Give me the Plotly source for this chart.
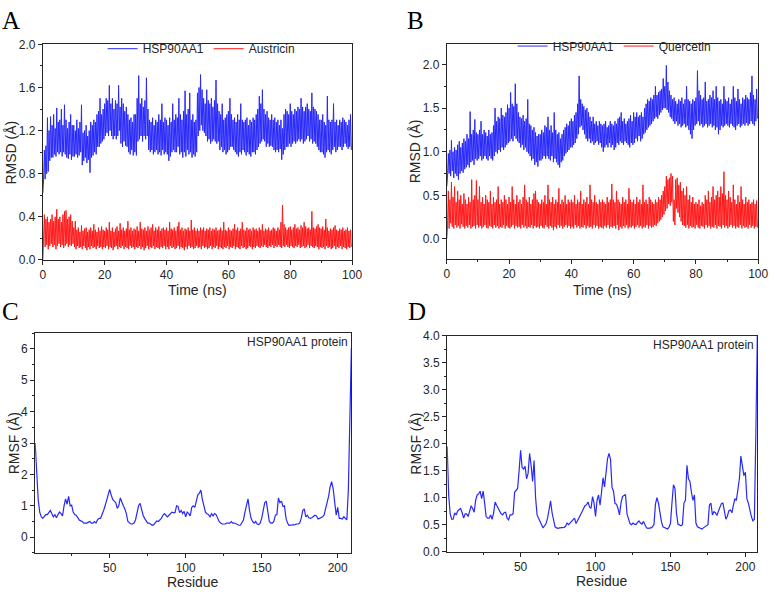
import plotly.graph_objects as go

W, H = 780, 597

# ---------------- data ----------------
# RMSD time grid (ns), one upper and one lower sample per 0.5 ns
time_ns = [i * 0.5 for i in range(200)]

a_prot_hi = [0.62, 1.02, 1.06, 1.32, 1.2, 1.33, 1.25, 1.35, 1.22, 1.41, 1.28, 1.3, 1.4, 1.25, 1.44, 1.3, 1.22, 1.28, 1.35, 1.25,
             1.25, 1.2, 1.3, 1.22, 1.28, 1.44, 1.18, 1.2, 1.25, 1.15, 1.2, 1.28, 1.25, 1.3, 1.28, 1.35, 1.38, 1.5, 1.35, 1.4,
             1.45, 1.5, 1.48, 1.62, 1.45, 1.5, 1.4, 1.48, 1.45, 1.62, 1.42, 1.5, 1.45, 1.38, 1.42, 1.35, 1.3, 1.32, 1.28, 1.35,
             1.35, 1.5, 1.71, 1.45, 1.5, 1.42, 1.48, 1.69, 1.4, 1.3, 1.28, 1.32, 1.25, 1.3, 1.28, 1.35, 1.3, 1.45, 1.28, 1.32,
             1.3, 1.25, 1.32, 1.28, 1.45, 1.3, 1.35, 1.32, 1.5, 1.35, 1.3, 1.38, 1.57, 1.35, 1.4, 1.55, 1.3, 1.35, 1.28, 1.3,
             1.55, 1.6, 1.72, 1.58, 1.5, 1.45, 1.58, 1.48, 1.45, 1.5, 1.42, 1.48, 1.67, 1.45, 1.38, 1.35, 1.45, 1.3, 1.32, 1.35,
             1.38, 1.5, 1.35, 1.3, 1.32, 1.28, 1.35, 1.3, 1.45, 1.3, 1.28, 1.3, 1.32, 1.25, 1.3, 1.28, 1.32, 1.3, 1.35, 1.4,
             1.52, 1.45, 1.58, 1.4, 1.35, 1.38, 1.32, 1.3, 1.35, 1.3, 1.32, 1.28, 1.3, 1.25, 1.3, 1.22, 1.35, 1.4, 1.38, 1.35,
             1.45, 1.38, 1.35, 1.4, 1.38, 1.42, 1.4, 1.5, 1.42, 1.38, 1.42, 1.45, 1.4, 1.38, 1.55, 1.42, 1.4, 1.38, 1.35, 1.3,
             1.3, 1.35, 1.28, 1.25, 1.52, 1.3, 1.28, 1.3, 1.45, 1.28, 1.3, 1.25, 1.3, 1.28, 1.32, 1.3, 1.28, 1.25, 1.3, 1.35]
a_prot_lo = [0.75, 0.75, 0.8, 0.82, 0.92, 0.95, 0.95, 0.98, 0.96, 1.0, 0.98, 1.0, 0.96, 1.0, 0.98, 0.95, 0.94, 0.98, 0.93, 0.96,
             0.96, 0.98, 0.95, 0.97, 1.0, 0.88, 0.92, 0.95, 0.9, 0.93, 0.81, 0.95, 0.97, 1.0, 0.98, 1.05, 1.05, 1.08, 1.1, 1.12,
             1.15, 1.18, 1.15, 1.2, 1.15, 1.12, 1.15, 1.12, 1.15, 1.2, 1.08, 1.05, 1.1, 1.06, 1.05, 1.0, 0.98, 1.02, 0.97, 1.0,
             0.97, 1.1, 1.12, 1.15, 1.1, 1.15, 1.12, 1.15, 1.02, 1.0, 1.02, 0.98, 1.0, 1.02, 0.98, 1.0, 0.97, 1.02, 0.98, 1.0,
             0.98, 0.92, 0.96, 1.0, 1.02, 1.0, 1.0, 1.05, 0.98, 1.0, 0.95, 1.0, 0.96, 1.02, 0.98, 1.0, 0.95, 0.98, 0.96, 1.0,
             1.15, 1.2, 1.25, 1.2, 1.18, 1.15, 1.1, 1.12, 1.08, 1.1, 1.12, 1.1, 1.08, 1.1, 1.02, 1.05, 1.0, 1.02, 0.98, 1.0,
             1.02, 1.05, 1.05, 1.02, 1.0, 0.98, 0.96, 1.0, 0.98, 1.02, 1.0, 0.97, 1.0, 0.98, 0.96, 1.0, 1.0, 0.98, 1.02, 1.05,
             1.08, 1.1, 1.12, 1.1, 1.05, 1.08, 1.05, 1.06, 1.05, 1.02, 1.0, 1.02, 1.0, 1.03, 0.93, 0.98, 1.02, 1.05, 1.05, 1.08,
             1.05, 1.08, 1.1, 1.08, 1.1, 1.12, 1.1, 1.12, 1.08, 1.1, 1.12, 1.15, 1.1, 1.12, 1.08, 1.1, 1.08, 1.05, 1.02, 1.0,
             1.0, 0.98, 0.95, 1.0, 1.02, 1.0, 0.98, 1.02, 1.05, 1.0, 1.02, 1.05, 1.05, 1.02, 1.05, 1.08, 1.05, 1.03, 1.05, 1.02]

a_lig_hi = [0.0, 0.42, 0.38, 0.4, 0.35, 0.38, 0.42, 0.36, 0.4, 0.47, 0.38, 0.4, 0.35, 0.42, 0.45, 0.46, 0.38, 0.4, 0.42, 0.36,
            0.3, 0.36, 0.28, 0.3, 0.26, 0.32, 0.27, 0.29, 0.3, 0.26, 0.28, 0.3, 0.27, 0.33, 0.28, 0.26, 0.3, 0.27, 0.31, 0.28,
            0.27, 0.3, 0.28, 0.35, 0.27, 0.3, 0.26, 0.29, 0.31, 0.27, 0.34, 0.28, 0.3, 0.27, 0.29, 0.36, 0.28, 0.3, 0.27, 0.29,
            0.28, 0.31, 0.27, 0.35, 0.29, 0.28, 0.3, 0.27, 0.31, 0.28, 0.3, 0.33, 0.27, 0.3, 0.28, 0.31, 0.27, 0.29, 0.3, 0.28,
            0.3, 0.27, 0.35, 0.29, 0.28, 0.3, 0.27, 0.31, 0.35, 0.28, 0.3, 0.27, 0.29, 0.28, 0.3, 0.27, 0.37, 0.28, 0.3, 0.27,
            0.29, 0.27, 0.3, 0.28, 0.3, 0.27, 0.29, 0.28, 0.3, 0.27, 0.29, 0.28, 0.3, 0.27, 0.28, 0.3, 0.27, 0.35, 0.28, 0.27,
            0.3, 0.28, 0.27, 0.29, 0.33, 0.28, 0.3, 0.27, 0.29, 0.35, 0.28, 0.27, 0.3, 0.28, 0.29, 0.27, 0.3, 0.28, 0.29, 0.27,
            0.3, 0.28, 0.33, 0.27, 0.29, 0.28, 0.3, 0.27, 0.28, 0.3, 0.29, 0.27, 0.3, 0.28, 0.35, 0.51, 0.33, 0.3, 0.28, 0.3,
            0.31, 0.28, 0.3, 0.33, 0.29, 0.3, 0.28, 0.32, 0.3, 0.35, 0.31, 0.29, 0.3, 0.28, 0.45, 0.3, 0.29, 0.31, 0.33, 0.3,
            0.29, 0.31, 0.28, 0.38, 0.3, 0.27, 0.29, 0.28, 0.3, 0.32, 0.28, 0.27, 0.29, 0.28, 0.3, 0.27, 0.28, 0.3, 0.27, 0.28]
a_lig_lo = [0.15, 0.12, 0.14, 0.1, 0.13, 0.15, 0.12, 0.14, 0.1, 0.13, 0.15, 0.12, 0.14, 0.11, 0.13, 0.15, 0.12, 0.14, 0.13, 0.15,
            0.12, 0.1, 0.13, 0.11, 0.12, 0.1, 0.13, 0.11, 0.09, 0.12, 0.1, 0.13, 0.11, 0.12, 0.1, 0.13, 0.11, 0.12, 0.1, 0.12,
            0.11, 0.13, 0.1, 0.12, 0.11, 0.09, 0.12, 0.13, 0.1, 0.12, 0.11, 0.13, 0.1, 0.12, 0.11, 0.1, 0.13, 0.11, 0.12, 0.1,
            0.12, 0.11, 0.13, 0.1, 0.12, 0.09, 0.11, 0.13, 0.1, 0.12, 0.11, 0.13, 0.1, 0.12, 0.11, 0.1, 0.12, 0.11, 0.13, 0.1,
            0.12, 0.1, 0.13, 0.11, 0.12, 0.1, 0.11, 0.13, 0.1, 0.12, 0.11, 0.09, 0.12, 0.1, 0.13, 0.11, 0.12, 0.1, 0.11, 0.13,
            0.11, 0.12, 0.1, 0.13, 0.11, 0.12, 0.1, 0.11, 0.13, 0.1, 0.12, 0.11, 0.13, 0.1, 0.12, 0.11, 0.1, 0.12, 0.11, 0.13,
            0.1, 0.12, 0.11, 0.13, 0.1, 0.12, 0.11, 0.1, 0.13, 0.11, 0.12, 0.1, 0.11, 0.13, 0.12, 0.1, 0.12, 0.11, 0.13, 0.12,
            0.11, 0.13, 0.12, 0.14, 0.12, 0.11, 0.13, 0.12, 0.14, 0.11, 0.13, 0.12, 0.14, 0.12, 0.11, 0.13, 0.12, 0.14, 0.12, 0.11,
            0.13, 0.12, 0.11, 0.13, 0.12, 0.14, 0.11, 0.12, 0.13, 0.11, 0.12, 0.14, 0.11, 0.13, 0.12, 0.11, 0.13, 0.12, 0.1, 0.12,
            0.11, 0.12, 0.1, 0.13, 0.11, 0.12, 0.1, 0.11, 0.13, 0.1, 0.12, 0.11, 0.13, 0.1, 0.12, 0.11, 0.1, 0.12, 0.11, 0.12]

b_prot_hi = [0.6, 0.98, 1.02, 1.13, 1.0, 1.05, 1.02, 1.08, 1.12, 1.05, 1.1, 1.15, 1.12, 1.2, 1.15, 1.46, 1.2, 1.25, 1.37, 1.22,
             1.2, 1.25, 1.35, 1.2, 1.25, 1.22, 1.18, 1.25, 1.2, 1.22, 1.3, 1.5, 1.35, 1.4, 1.38, 1.5, 1.42, 1.4, 1.45, 1.54,
             1.5, 1.68, 1.55, 1.52, 1.78, 1.55, 1.45, 1.4, 1.38, 1.42, 1.35, 1.38, 1.6, 1.32, 1.3, 1.25, 1.28, 1.22, 1.18, 1.2,
             1.2, 1.25, 1.22, 1.3, 1.28, 1.4, 1.25, 1.3, 1.22, 1.45, 1.25, 1.2, 1.22, 1.15, 1.2, 1.25, 1.28, 1.32, 1.3, 1.35,
             1.38, 1.35, 1.42, 1.45, 1.55, 1.87, 1.6, 1.55, 1.52, 1.48, 1.5, 1.45, 1.4, 1.35, 1.4, 1.32, 1.35, 1.3, 1.35, 1.32,
             1.3, 1.32, 1.35, 1.28, 1.3, 1.35, 1.32, 1.3, 1.35, 1.32, 1.38, 1.4, 1.45, 1.35, 1.38, 1.32, 1.35, 1.38, 1.42, 1.35,
             1.45, 1.4, 1.45, 1.4, 1.42, 1.45, 1.4, 1.5, 1.55, 1.6, 1.58, 1.62, 1.6, 1.65, 1.75, 1.65, 1.68, 1.7, 1.72, 1.84,
             1.75, 1.99, 1.8, 1.7, 1.65, 1.6, 1.62, 1.58, 1.55, 1.6, 1.58, 1.62, 1.55, 1.6, 1.75, 1.6, 1.58, 1.55, 1.6, 1.58,
             1.62, 1.93, 1.7, 1.65, 1.6, 1.62, 1.8, 1.58, 1.6, 1.65, 1.62, 1.7, 1.6, 1.75, 1.62, 1.58, 1.6, 1.55, 1.75, 1.6,
             1.58, 1.62, 1.55, 1.6, 1.75, 1.62, 1.58, 1.72, 1.6, 1.55, 1.62, 1.6, 1.65, 1.62, 1.6, 1.68, 1.87, 1.65, 1.6, 1.72]
b_prot_lo = [0.72, 0.75, 0.72, 0.78, 0.7, 0.75, 0.72, 0.68, 0.75, 0.78, 0.76, 0.8, 0.82, 0.85, 0.82, 0.88, 0.9, 0.85, 0.92, 0.9,
             0.92, 0.95, 0.9, 0.92, 0.95, 0.92, 0.9, 0.95, 0.92, 0.9, 0.95, 1.0, 0.98, 1.02, 1.0, 1.05, 1.02, 1.05, 1.08, 1.1,
             1.12, 1.15, 1.12, 1.18, 1.15, 1.12, 1.1, 1.05, 1.08, 1.02, 1.05, 1.0, 0.98, 0.95, 0.9, 0.92, 0.85, 0.88, 0.83, 0.9,
             0.9, 0.92, 0.95, 0.92, 0.95, 0.92, 0.9, 0.95, 0.88, 0.92, 0.88, 0.85, 0.82, 0.88, 0.9, 0.95, 0.98, 1.0, 1.02, 1.05,
             1.05, 1.08, 1.1, 1.15, 1.2, 1.28, 1.3, 1.25, 1.2, 1.15, 1.12, 1.15, 1.1, 1.12, 1.08, 1.1, 1.12, 1.08, 1.1, 1.05,
             1.0, 1.05, 1.08, 1.05, 1.1, 1.05, 1.08, 1.02, 1.05, 1.1, 1.08, 1.12, 1.1, 1.08, 1.12, 1.1, 1.08, 1.05, 1.1, 1.08,
             1.1, 1.15, 1.12, 1.18, 1.12, 1.15, 1.2, 1.22, 1.25, 1.28, 1.3, 1.32, 1.35, 1.38, 1.4, 1.38, 1.42, 1.45, 1.48, 1.5,
             1.5, 1.48, 1.45, 1.4, 1.38, 1.35, 1.32, 1.35, 1.3, 1.32, 1.28, 1.3, 1.32, 1.28, 1.3, 1.25, 1.2, 1.15, 1.25, 1.3,
             1.32, 1.35, 1.3, 1.32, 1.28, 1.3, 1.32, 1.28, 1.3, 1.32, 1.28, 1.3, 1.25, 1.28, 1.2, 1.25, 1.3, 1.28, 1.3, 1.32,
             1.3, 1.28, 1.32, 1.3, 1.28, 1.25, 1.3, 1.32, 1.28, 1.3, 1.32, 1.3, 1.33, 1.3, 1.32, 1.35, 1.32, 1.3, 1.35, 1.38]

b_lig_hi = [0.0, 0.55, 0.45, 0.65, 0.48, 0.6, 0.42, 0.55, 0.45, 0.5, 0.4, 0.52, 0.45, 0.4, 0.48, 0.42, 0.68, 0.45, 0.5, 0.67,
            0.45, 0.6, 0.42, 0.48, 0.4, 0.5, 0.45, 0.42, 0.55, 0.4, 0.48, 0.42, 0.45, 0.6, 0.4, 0.45, 0.42, 0.5, 0.45, 0.4,
            0.48, 0.42, 0.6, 0.45, 0.4, 0.5, 0.42, 0.45, 0.4, 0.48, 0.62, 0.45, 0.42, 0.48, 0.4, 0.45, 0.52, 0.55, 0.45, 0.42,
            0.4, 0.45, 0.42, 0.5, 0.4, 0.62, 0.45, 0.42, 0.48, 0.4, 0.45, 0.42, 0.58, 0.4, 0.45, 0.42, 0.5, 0.4, 0.45, 0.42,
            0.45, 0.42, 0.5, 0.4, 0.45, 0.42, 0.55, 0.4, 0.45, 0.42, 0.48, 0.4, 0.62, 0.45, 0.42, 0.5, 0.42, 0.4, 0.45, 0.42,
            0.45, 0.42, 0.4, 0.48, 0.42, 0.45, 0.63, 0.45, 0.42, 0.55, 0.45, 0.42, 0.4, 0.48, 0.42, 0.45, 0.4, 0.58, 0.45, 0.42,
            0.45, 0.4, 0.48, 0.42, 0.45, 0.4, 0.62, 0.42, 0.45, 0.4, 0.48, 0.45, 0.42, 0.4, 0.45, 0.42, 0.48, 0.45, 0.5, 0.55,
            0.6, 0.72, 0.68, 0.7, 0.75, 0.72, 0.45, 0.68, 0.7, 0.62, 0.65, 0.55, 0.58, 0.5, 0.6, 0.45, 0.5, 0.42, 0.48, 0.4,
            0.42, 0.4, 0.45, 0.38, 0.42, 0.4, 0.5, 0.45, 0.55, 0.42, 0.48, 0.6, 0.45, 0.5, 0.55, 0.48, 0.6, 0.52, 0.77, 0.5,
            0.45, 0.55, 0.48, 0.42, 0.62, 0.45, 0.4, 0.5, 0.42, 0.6, 0.45, 0.4, 0.48, 0.42, 0.45, 0.4, 0.42, 0.45, 0.4, 0.44]
b_lig_lo = [0.15, 0.12, 0.18, 0.14, 0.12, 0.16, 0.13, 0.15, 0.12, 0.17, 0.14, 0.12, 0.15, 0.13, 0.16, 0.12, 0.14, 0.15, 0.12, 0.16,
            0.13, 0.15, 0.12, 0.14, 0.16, 0.13, 0.12, 0.15, 0.14, 0.12, 0.16, 0.13, 0.15, 0.12, 0.14, 0.13, 0.16, 0.12, 0.15, 0.13,
            0.12, 0.14, 0.16, 0.12, 0.15, 0.13, 0.14, 0.12, 0.16, 0.13, 0.15, 0.12, 0.14, 0.13, 0.16, 0.12, 0.15, 0.13, 0.14, 0.12,
            0.15, 0.13, 0.12, 0.16, 0.14, 0.12, 0.15, 0.13, 0.1, 0.14, 0.12, 0.16, 0.13, 0.15, 0.12, 0.14, 0.16, 0.13, 0.15, 0.12,
            0.14, 0.12, 0.16, 0.13, 0.15, 0.12, 0.14, 0.13, 0.16, 0.12, 0.15, 0.13, 0.14, 0.12, 0.16, 0.13, 0.15, 0.12, 0.14, 0.13,
            0.12, 0.15, 0.13, 0.16, 0.12, 0.14, 0.13, 0.15, 0.12, 0.16, 0.1, 0.14, 0.12, 0.15, 0.13, 0.16, 0.12, 0.14, 0.13, 0.15,
            0.12, 0.14, 0.16, 0.13, 0.15, 0.12, 0.14, 0.13, 0.16, 0.12, 0.15, 0.13, 0.14, 0.16, 0.15, 0.18, 0.2, 0.22, 0.25, 0.28,
            0.32, 0.35, 0.4, 0.38, 0.42, 0.2, 0.16, 0.35, 0.3, 0.25, 0.2, 0.16, 0.15, 0.13, 0.16, 0.12, 0.15, 0.13, 0.14, 0.12,
            0.16, 0.13, 0.12, 0.15, 0.14, 0.12, 0.16, 0.13, 0.15, 0.12, 0.14, 0.13, 0.16, 0.12, 0.15, 0.14, 0.12, 0.16, 0.13, 0.15,
            0.12, 0.14, 0.16, 0.13, 0.15, 0.12, 0.14, 0.13, 0.16, 0.12, 0.15, 0.13, 0.14, 0.12, 0.16, 0.13, 0.15, 0.12, 0.14, 0.13]

# RMSF per residue
residues_c = list(range(1, 210))
rmsf_c = [3.0, 1.9, 1.2, 0.8, 0.65, 0.6, 0.68, 0.72, 0.72, 0.8, 0.85, 0.75, 0.65, 0.72, 0.62, 0.72, 0.8, 0.75, 0.68, 1.0,
          1.22, 1.05, 1.3, 1.0, 1.02, 0.8, 0.72, 0.7, 0.62, 0.55, 0.52, 0.5, 0.45, 0.45, 0.45, 0.48, 0.5, 0.45, 0.45, 0.5,
          0.45, 0.55, 0.6, 0.6, 0.7, 0.85, 1.0, 1.15, 1.35, 1.52, 1.35, 1.2, 1.15, 1.1, 0.92, 1.0, 1.25, 1.1, 1.0, 0.9,
          0.75, 0.5, 0.45, 0.42, 0.42, 0.45, 0.55, 0.8, 1.0, 1.08, 0.85, 0.7, 0.6, 0.5, 0.45, 0.45, 0.4, 0.38, 0.4, 0.45,
          0.52, 0.5, 0.55, 0.6, 0.7, 0.75, 0.7, 0.65, 0.7, 0.75, 0.8, 0.78, 0.78, 1.0, 0.98, 0.78, 0.85, 0.75, 0.82, 0.65,
          0.8, 0.75, 0.68, 0.95, 1.0, 0.95, 1.2, 1.35, 1.4, 1.5, 1.2, 0.95, 0.8, 0.75, 0.72, 0.65, 0.75, 0.68, 0.75, 0.72,
          0.58, 0.5, 0.45, 0.42, 0.42, 0.42, 0.45, 0.45, 0.45, 0.5, 0.45, 0.45, 0.42, 0.4, 0.38, 0.38, 0.45, 0.55, 0.8, 1.05,
          1.22, 0.85, 0.6, 0.5, 0.45, 0.5, 0.42, 0.4, 0.45, 0.6, 0.85, 1.1, 1.15, 0.8, 0.5, 0.45, 0.45, 0.5, 0.7, 0.72,
          1.25, 1.1, 1.15, 0.98, 1.0, 0.6, 0.45, 0.38, 0.38, 0.38, 0.4, 0.4, 0.42, 0.42, 0.45, 0.6, 0.85, 0.9, 0.65, 0.7,
          0.62, 0.6, 0.62, 0.65, 0.7, 0.68, 0.58, 0.6, 0.62, 0.65, 0.7, 0.9, 1.05, 1.3, 1.6, 1.77, 1.55, 1.2, 0.7, 0.95,
          0.6, 0.6, 0.58, 0.65, 0.6, 0.55, 1.5, 4.0, 6.05]

residues_d = list(range(1, 209))
rmsf_d = [1.95, 1.05, 0.7, 0.6, 0.6, 0.72, 0.68, 0.75, 0.78, 0.8, 0.72, 0.62, 0.7, 0.7, 0.65, 0.75, 0.85, 0.8, 0.73, 0.95,
          1.05, 1.07, 1.12, 0.98, 1.12, 0.9, 0.65, 0.62, 0.62, 0.68, 0.6, 0.72, 0.92, 0.86, 0.8, 0.77, 0.7, 0.68, 0.72, 0.73,
          0.62, 0.59, 0.68, 0.68, 0.7, 1.1, 1.13, 1.17, 1.5, 1.88, 1.56, 1.53, 1.58, 1.35, 1.45, 1.82, 1.6, 1.3, 1.69, 1.0,
          0.68, 0.63, 0.56, 0.5, 0.44, 0.48, 0.52, 0.62, 0.8, 0.94, 0.72, 0.55, 0.46, 0.44, 0.43, 0.44, 0.44, 0.45, 0.45, 0.47,
          0.53, 0.5, 0.53, 0.55, 0.58, 0.62, 0.52, 0.57, 0.62, 0.68, 0.74, 0.8, 0.85, 0.87, 0.92, 0.83, 0.8, 1.02, 0.9, 0.65,
          0.95, 1.05, 0.86, 1.1, 1.37, 1.2, 1.43, 1.72, 1.82, 1.71, 1.19, 1.12, 0.89, 0.88, 0.8, 0.68, 0.9, 1.02, 1.04, 1.06,
          0.7, 0.59, 0.52, 0.5, 0.53, 0.51, 0.5, 0.54, 0.57, 0.53, 0.51, 0.56, 0.5, 0.44, 0.43, 0.43, 0.44, 0.46, 0.5, 0.88,
          1.0, 0.9, 0.72, 0.55, 0.46, 0.45, 0.44, 0.42, 0.45, 0.52, 0.9, 1.24, 1.17, 0.72, 0.51, 0.49, 0.48, 0.5, 0.9, 0.95,
          1.6, 1.35, 1.3, 1.1, 0.95, 1.05, 0.53, 0.46, 0.45, 0.43, 0.42, 0.44, 0.46, 0.47, 0.5, 0.86, 0.9, 0.68, 0.74, 0.72,
          0.67, 0.75, 0.83, 0.89, 0.9, 0.77, 0.6, 0.66, 0.76, 0.77, 0.72, 0.86, 0.98, 0.95, 1.16, 1.35, 1.77, 1.59, 1.41, 1.47,
          0.98, 0.9, 0.75, 0.65, 0.57, 0.6, 2.2, 4.1]

BLUE = "rgb(40,40,250)"
RED = "rgb(255,25,25)"
FONT = "Arial, 'Liberation Sans', sans-serif"
SERIF = "'Times New Roman', 'Liberation Serif', serif"
INK = "#262626"


def band(t, hi, lo):
    xs, ys = [], []
    for ti, h, l in zip(t, hi, lo):
        xs += [ti, ti + 0.25]
        ys += [h, l]
    return xs, ys


def px(x0, x1):
    return [x0 / W, x1 / W]


def py(top, bottom):
    return [1 - bottom / H, 1 - top / H]


fig = go.Figure()

xa, ya = band(time_ns, a_prot_hi, a_prot_lo)
fig.add_trace(go.Scatter(x=xa, y=ya, mode="lines", name="HSP90AA1", line=dict(color=BLUE, width=1),
                         xaxis="x", yaxis="y", legend="legend"))
xa, ya = band(time_ns, a_lig_hi, a_lig_lo)
fig.add_trace(go.Scatter(x=xa, y=ya, mode="lines", name="Austricin", line=dict(color=RED, width=1),
                         xaxis="x", yaxis="y", legend="legend"))
xb, yb = band(time_ns, b_prot_hi, b_prot_lo)
fig.add_trace(go.Scatter(x=xb, y=yb, mode="lines", name="HSP90AA1", line=dict(color=BLUE, width=1),
                         xaxis="x2", yaxis="y2", legend="legend2"))
xb, yb = band(time_ns, b_lig_hi, b_lig_lo)
fig.add_trace(go.Scatter(x=xb, y=yb, mode="lines", name="Quercetin", line=dict(color=RED, width=1),
                         xaxis="x2", yaxis="y2", legend="legend2"))
fig.add_trace(go.Scatter(x=residues_c, y=rmsf_c, mode="lines", line=dict(color=BLUE, width=1.2),
                         xaxis="x3", yaxis="y3", showlegend=False))
fig.add_trace(go.Scatter(x=residues_d, y=rmsf_d, mode="lines", line=dict(color=BLUE, width=1.2),
                         xaxis="x4", yaxis="y4", showlegend=False))

tickfont = dict(family=FONT, size=12, color=INK)
titlefont = dict(family=FONT, size=14, color=INK)


def xax(domain, anchor, rng, dtick, minor, tick0=0):
    return dict(domain=domain, anchor=anchor, range=rng, dtick=dtick, tick0=tick0,
                ticks="outside", ticklen=4, tickwidth=1, tickcolor=INK,
                minor=dict(ticks="outside", ticklen=2, dtick=minor, tick0=tick0, tickcolor=INK),
                showline=True, linecolor=INK, linewidth=1, mirror=True,
                showgrid=False, zeroline=False, tickfont=tickfont)


def yax(domain, anchor, rng, dtick, minor, fmt):
    return dict(domain=domain, anchor=anchor, range=rng, dtick=dtick, tick0=0,
                ticks="outside", ticklen=4, tickwidth=1, tickcolor=INK, tickformat=fmt,
                minor=dict(ticks="outside", ticklen=2, dtick=minor, tick0=0, tickcolor=INK),
                showline=True, linecolor=INK, linewidth=1, mirror=True,
                showgrid=False, zeroline=False, tickfont=tickfont)


# panel boxes in pixels: (left, right, top, bottom)
box_a = (40.5, 355, 38.3, 259)
box_b = (451.3, 768, 37.5, 258)
box_c = (32.7, 354.3, 334, 559)
box_d = (451.7, 766.7, 336.7, 557.7)

fig.update_layout(
    width=W, height=H, margin=dict(l=0, r=0, t=0, b=0),
    paper_bgcolor="white", plot_bgcolor="white",
    xaxis=xax(px(box_a[0], box_a[1]), "y", [0, 100], 20, 10),
    yaxis=yax(py(box_a[2], box_a[3]), "x", [0, 2.0], 0.4, 0.2, ".1f"),
    xaxis2=xax(px(box_b[0], box_b[1]), "y2", [0, 100], 20, 10),
    yaxis2=yax(py(box_b[2], box_b[3]), "x2", [-0.23, 2.24], 0.5, 0.25, ".1f"),
    xaxis3=xax(px(box_c[0], box_c[1]), "y3", [1, 209], 50, 25),
    yaxis3=yax(py(box_c[2], box_c[3]), "x3", [-0.5, 6.5], 1, 0.5, "d"),
    xaxis4=xax(px(box_d[0], box_d[1]), "y4", [1, 207.7], 50, 25),
    yaxis4=yax(py(box_d[2], box_d[3]), "x4", [0, 4.0], 0.5, 0.25, ".1f"),
    legend=dict(orientation="h", x=202 / W, y=1 - 42.7 / H, xanchor="center", yanchor="middle",
                bgcolor="rgba(0,0,0,0)", font=dict(family=FONT, size=12, color=INK),
                itemwidth=30, tracegroupgap=0),
    legend2=dict(orientation="h", x=622 / W, y=1 - 40 / H, xanchor="center", yanchor="middle",
                 bgcolor="rgba(0,0,0,0)", font=dict(family=FONT, size=12, color=INK),
                 itemwidth=30, tracegroupgap=0),
    showlegend=True,
)


def ann(text, x, y, font, **kw):
    fig.add_annotation(xref="paper", yref="paper", x=x / W, y=1 - y / H, text=text, showarrow=False,
                       font=font, **kw)


# panel letters
letter_font = dict(family=SERIF, size=25, color="black")
ann("A", -2, 14, letter_font, xanchor="left", yanchor="middle", borderpad=0)
ann("B", 410, 14, letter_font, xanchor="left", yanchor="middle", borderpad=0)
ann("C", -2, 312, letter_font, xanchor="left", yanchor="middle", borderpad=0)
ann("D", 411, 312, letter_font, xanchor="left", yanchor="middle", borderpad=0)

# axis titles
for box, xt, xy, yt, yx in [(box_a, "Time (ns)", 290, "RMSD (Å)", 8.5),
                            (box_b, "Time (ns)", 290, "RMSD (Å)", 419),
                            (box_c, "Residue", 589, "RMSF (Å)", 11.5),
                            (box_d, "Residue", 588, "RMSF (Å)", 420)]:
    ann(xt, (box[0] + box[1]) / 2, xy, titlefont, xanchor="center", yanchor="middle", borderpad=0)
    ann(yt, yx, (box[2] + box[3]) / 2, titlefont, xanchor="center", yanchor="middle", textangle=-90)

# in-panel labels
lab_font = dict(family=FONT, size=12, color=INK)
ann("HSP90AA1 protein", 353, 343.3, lab_font, xanchor="right", yanchor="middle")
ann("HSP90AA1 protein", 765.7, 345.7, lab_font, xanchor="right", yanchor="middle")

fig.write_html("out.html", config={"displayModeBar": False},
               post_script="document.body.style.margin='0';document.body.style.overflow='hidden';")
